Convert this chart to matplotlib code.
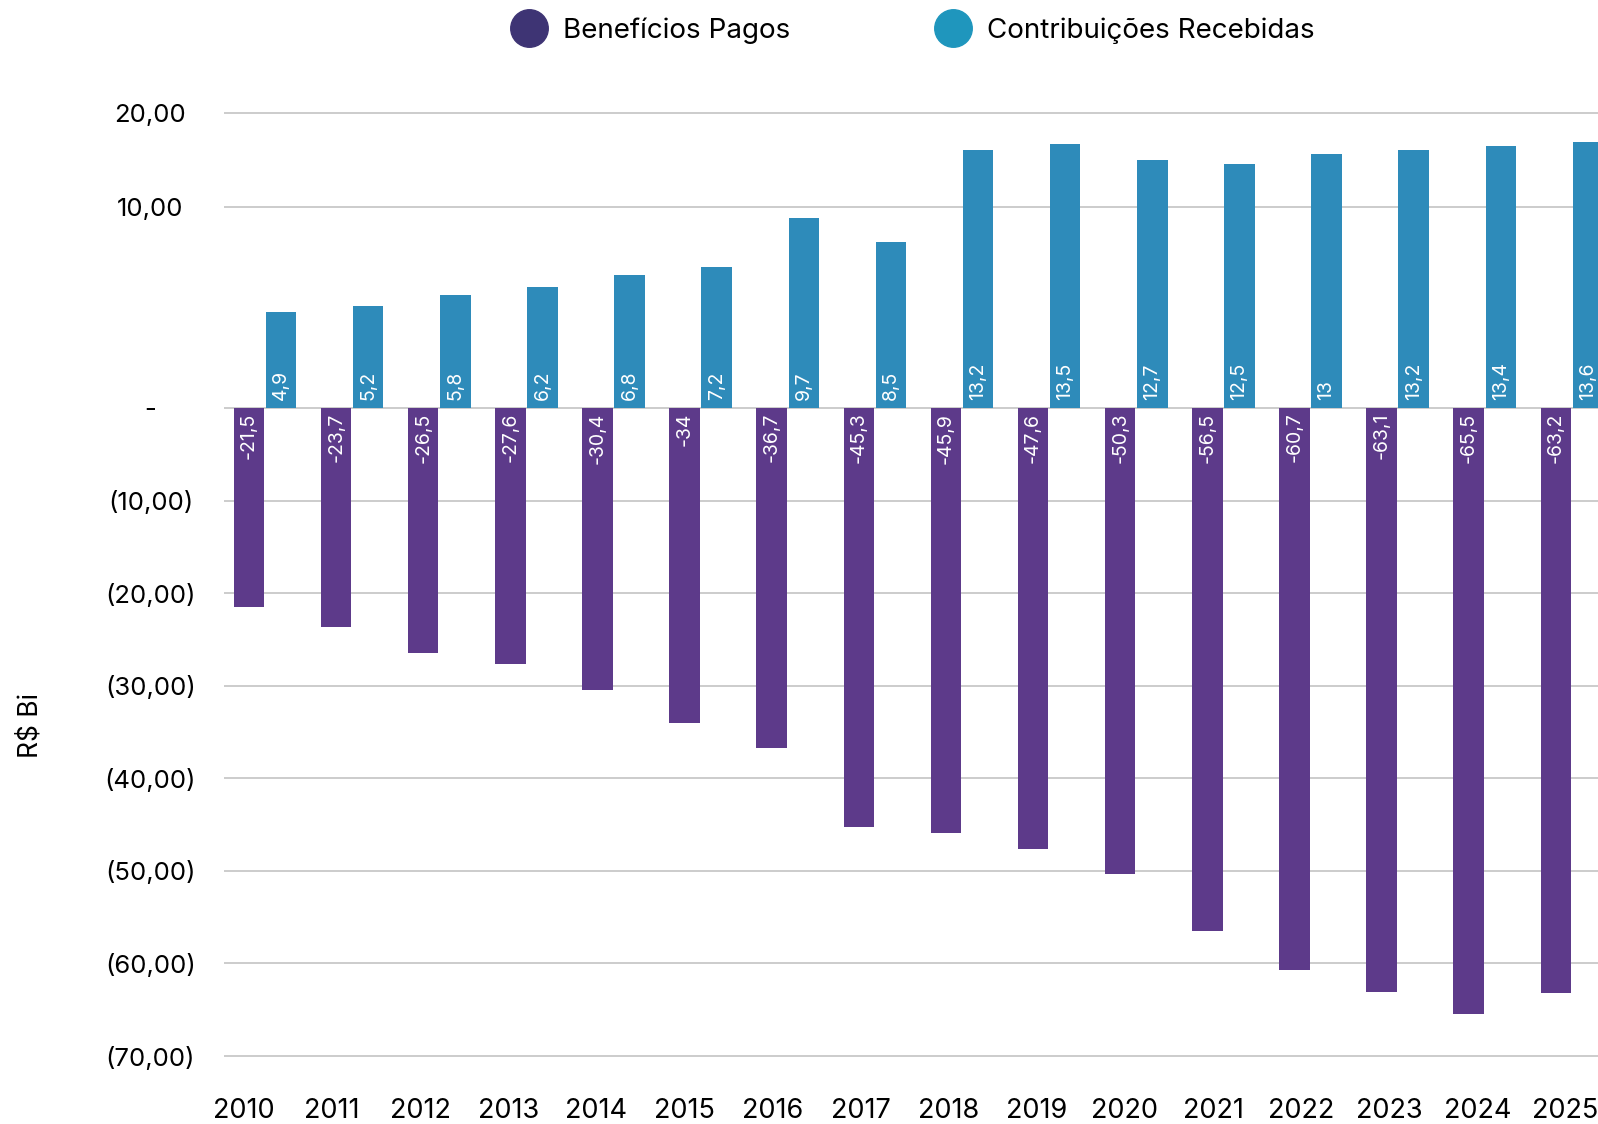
import matplotlib.pyplot as plt
from matplotlib.lines import Line2D
import numpy as np

plt.rcParams['font.family'] = ['Inter', 'DejaVu Sans']

anos = [str(a) for a in range(2010, 2026)]
beneficios = [-21.5, -23.7, -26.5, -27.6, -30.4, -34, -36.7, -45.3,
              -45.9, -47.6, -50.3, -56.5, -60.7, -63.1, -65.5, -63.2]
contribuicoes = [4.9, 5.2, 5.8, 6.2, 6.8, 7.2, 9.7, 8.5,
                 13.2, 13.5, 12.7, 12.5, 13, 13.2, 13.4, 13.6]

# eixo da esquerda (negativos) e rótulos como no original
neg_ticks = [-70, -60, -50, -40, -30, -20, -10, 0]
neg_labels = ["(70,00)", "(60,00)", "(50,00)", "(40,00)", "(30,00)", "(20,00)", "(10,00)", "-"]
# as linhas "10,00" e "20,00" do original não batem com a escala das barras
pos_ticks = [21.7, 31.9]
pos_labels = ["10,00", "20,00"]

cor_benef = "#5D3A8A"
cor_contr = "#2E8BBA"
cor_leg_benef = "#3E3474"
cor_leg_contr = "#1F96BD"

def fmt(v):
    return f"{v:g}".replace(".", ",")

W, H = 1598, 1124
fig = plt.figure(figsize=(W / 100, H / 100), dpi=100)
ax = fig.add_axes([224 / W, 0.0569, 1 - 224 / W, 0.854])
ax.set_xlim(-0.471, 15.30)
ylo, yhi = -70.43, 33.27
ax.set_ylim(ylo, yhi)

# contribuições num eixo secundário com escala própria (zero alinhado)
k = 9.257 / 19.55
ax2 = ax.twinx()
ax2.set_ylim(ylo * k, yhi * k)

x = np.arange(len(anos))
larg = 0.35
off = 0.184

ax.bar(x - off, beneficios, width=larg, color=cor_benef, zorder=3)
ax2.bar(x + off, contribuicoes, width=larg, color=cor_contr, zorder=3)

for xi, v in zip(x, beneficios):
    ax.text(xi - off, -0.5, fmt(v), rotation=90, rotation_mode='anchor',
            ha='right', va='center', color='white', fontsize=14, zorder=4)
for xi, v in zip(x, contribuicoes):
    ax2.text(xi + off, 0.4, fmt(v), rotation=90, rotation_mode='anchor',
             ha='left', va='center', color='white', fontsize=14, zorder=4)

ax.set_yticks(neg_ticks + pos_ticks)
ax.set_yticklabels(neg_labels + pos_labels)
ax.yaxis.grid(True, color="#C8C8C8", linewidth=1.3, zorder=0)
ax.set_axisbelow(True)
ax.tick_params(axis='y', length=0, pad=53, labelsize=18.5)
for lbl in ax.get_yticklabels():
    lbl.set_ha('center')

# rótulos dos anos levemente mais espaçados que as barras
ax.set_xticks(x * 1.011 - 0.24)
ax.set_xticklabels(anos)
ax.tick_params(axis='x', length=0, pad=27, labelsize=19.5)

ax2.set_yticks([])
for a in (ax, ax2):
    for s in a.spines.values():
        s.set_visible(False)

fig.text(31 / W, 1 - 726 / H, "R$ Bi", rotation=90, ha='center', va='center', fontsize=19)

handles = [
    Line2D([], [], marker='o', linestyle='none', markersize=27, color=cor_leg_benef, label="Benefícios Pagos"),
    Line2D([], [], marker='o', linestyle='none', markersize=27, color=cor_leg_contr, label="Contribuições Recebidas"),
]
fig.legend(handles=handles, loc='center', bbox_to_anchor=(0.571, 0.973), ncol=2,
           frameon=False, fontsize=20, handletextpad=0.55, columnspacing=5.15, handlelength=1.35)

fig.savefig("out.png", dpi=100)
